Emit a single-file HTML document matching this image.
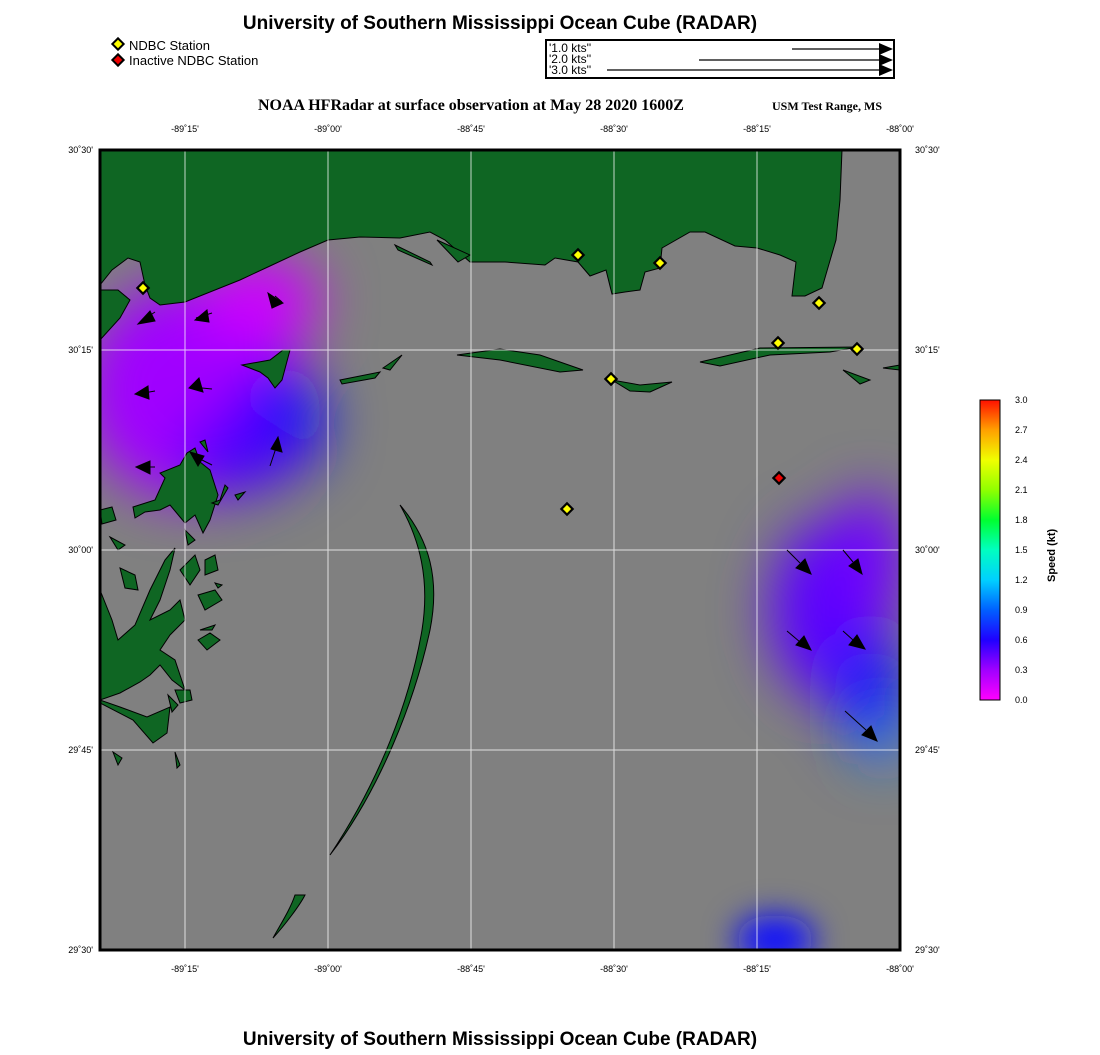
<!DOCTYPE html>
<html><head><meta charset="utf-8"><style>
body{margin:0;background:#fff;width:1100px;height:1050px;overflow:hidden;font-family:"Liberation Sans",sans-serif}
</style></head><body>
<svg width="1100" height="1050" viewBox="0 0 1100 1050" xmlns="http://www.w3.org/2000/svg">
<defs>
<filter id="b1" filterUnits="userSpaceOnUse" x="0" y="0" width="1100" height="1050"><feGaussianBlur stdDeviation="28"/></filter>
<filter id="b2" filterUnits="userSpaceOnUse" x="0" y="0" width="1100" height="1050"><feGaussianBlur stdDeviation="16"/></filter>
<clipPath id="mc"><rect x="100" y="150" width="800" height="800"/></clipPath>
<linearGradient id="cb" x1="0" y1="1" x2="0" y2="0">
<stop offset="0" stop-color="#ff00ff"/><stop offset="0.1" stop-color="#a000ff"/><stop offset="0.2" stop-color="#2000ff"/><stop offset="0.3" stop-color="#0060ff"/><stop offset="0.4" stop-color="#00d0ff"/><stop offset="0.5" stop-color="#00ffc0"/><stop offset="0.6" stop-color="#00ff30"/><stop offset="0.7" stop-color="#90ff00"/><stop offset="0.8" stop-color="#f0ff00"/><stop offset="0.9" stop-color="#ffa000"/><stop offset="1" stop-color="#ff1000"/>
</linearGradient>
</defs>
<text x="500" y="29" font-size="19" font-weight="bold" text-anchor="middle">University of Southern Mississippi Ocean Cube (RADAR)</text>
<text x="500" y="1045" font-size="19" font-weight="bold" text-anchor="middle">University of Southern Mississippi Ocean Cube (RADAR)</text>
<rect x="114" y="40" width="8" height="8" transform="rotate(45 118 44)" fill="#ff0" stroke="#000" stroke-width="2"/>
<text x="129" y="50" font-size="13">NDBC Station</text>
<rect x="114" y="56" width="8" height="8" transform="rotate(45 118 60)" fill="#e00" stroke="#000" stroke-width="2"/>
<text x="129" y="65" font-size="13">Inactive NDBC Station</text>
<rect x="546" y="40" width="348" height="38" fill="#fff" stroke="#000" stroke-width="2"/>
<g font-size="12" font-family="Liberation Sans"><text x="549" y="52">'1.0 kts''</text><text x="549" y="63">'2.0 kts''</text><text x="549" y="74">'3.0 kts''</text></g>
<g stroke="#000" stroke-width="1.2"><line x1="792" y1="49" x2="880" y2="49"/><line x1="699" y1="60" x2="880" y2="60"/><line x1="607" y1="70" x2="880" y2="70"/></g>
<g fill="#000"><polygon points="879,43 893,49 879,55"/><polygon points="879,54 893,60 879,66"/><polygon points="879,64 893,70 879,76"/></g>
<text x="258" y="110" font-size="16" font-weight="bold" font-family="Liberation Serif">NOAA HFRadar at surface observation at May 28 2020 1600Z</text>
<text x="772" y="110" font-size="12" font-weight="bold" font-family="Liberation Serif">USM Test Range, MS</text>
<rect x="100" y="150" width="800" height="800" fill="#808080"/>
<g clip-path="url(#mc)">
<g filter="url(#b1)">
<ellipse cx="190" cy="390" rx="110" ry="110" fill="#a000ff"/>
<ellipse cx="260" cy="300" rx="60" ry="45" fill="#cc00ff"/>
<ellipse cx="280" cy="420" rx="45" ry="55" fill="#0a10ff"/>
<ellipse cx="235" cy="455" rx="55" ry="40" fill="#4800ff"/>
<ellipse cx="830" cy="610" rx="60" ry="90" fill="#5a00ff"/>
<ellipse cx="870" cy="560" rx="35" ry="70" fill="#7000ff"/>
<ellipse cx="870" cy="690" rx="35" ry="60" fill="#0a1aff"/>
<ellipse cx="885" cy="745" rx="18" ry="20" fill="#2080ff"/>
</g>
<g filter="url(#b2)"><ellipse cx="775" cy="940" rx="40" ry="25" fill="#1010ff"/></g>
<g fill="#0f6623" stroke="#000" stroke-width="1">
<path d="M90,140 L905,140 L905,150 L842,150 L840,200 L836,240 L822,288 L805,296 L792,296 L796,262 L780,255 L757,248 L735,246 L705,232 L690,232 L662,248 L660,268 L645,272 L640,290 L625,292 L612,294 L606,270 L590,276 L578,262 L555,258 L545,265 L505,262 L470,262 L445,240 L430,232 L400,238 L360,237 L328,240 L300,252 L270,266 L240,280 L185,302 L160,305 L150,298 L145,285 L140,262 L128,258 L112,270 L100,285 L100,290 L118,290 L130,300 L120,318 L100,340 L90,340 Z"/>
<path d="M395,245 L430,262 L432,265 L398,250 Z"/>
<path d="M437,240 L470,255 L458,262 Z"/>
<path d="M340,380 L380,372 L375,378 L342,384 Z"/>
<path d="M383,368 L402,355 L390,370 Z"/>
<path d="M457,355 L500,349 L540,355 L583,370 L560,372 L500,360 Z"/>
<path d="M612,380 L640,385 L672,382 L650,392 L630,391 Z"/>
<path d="M700,362 L760,348 L858,347 L830,352 L770,355 L720,366 Z"/>
<path d="M843,370 L870,380 L860,384 Z"/>
<path d="M883,368 L900,365 L900,370 Z"/>
<path d="M242,365 L270,360 L283,350 L290,350 L282,380 L275,388 L268,378 L260,372 Z"/>
<path d="M400,505 C430,540 440,580 430,630 C415,700 380,790 330,855 C380,780 410,700 422,630 C430,580 420,540 400,505 Z"/>
<path d="M295,895 C290,910 280,925 273,938 C285,925 300,905 305,895 Z"/>
<path d="M133,507 L155,500 L165,478 L160,473 L180,465 L187,453 L195,448 L200,462 L210,470 L218,495 L210,520 L203,533 L195,515 L185,523 L170,505 L160,510 L145,512 L135,518 Z"/>
<path d="M200,442 L205,440 L208,452 Z"/>
<path d="M100,510 L112,507 L116,520 L102,524 Z"/>
<path d="M110,537 L125,545 L118,550 Z"/>
<path d="M100,590 L112,620 L118,640 L135,625 L150,590 L165,560 L175,548 L170,570 L160,600 L150,620 L170,610 L180,600 L185,620 L170,635 L160,650 L175,660 L185,690 L172,680 L160,665 L150,675 L140,682 L120,693 L100,700 Z"/>
<path d="M120,568 L135,575 L138,590 L125,588 Z"/>
<path d="M180,570 L195,555 L200,570 L190,585 Z"/>
<path d="M205,560 L215,555 L218,570 L205,575 Z"/>
<path d="M185,530 L195,540 L188,545 Z"/>
<path d="M198,595 L215,590 L222,600 L205,610 Z"/>
<path d="M198,640 L210,633 L220,640 L207,650 Z"/>
<path d="M200,630 L215,625 L212,630 Z"/>
<path d="M168,695 L178,705 L172,712 Z"/>
<path d="M175,690 L190,690 L192,700 L180,703 Z"/>
<path d="M100,703 L133,720 L153,743 L167,733 L170,707 L147,717 L120,707 L100,700 Z"/>
<path d="M113,752 L122,758 L118,765 Z"/>
<path d="M175,752 L180,765 L177,768 Z"/>
<path d="M212,503 L220,500 L225,485 L228,488 L218,505 Z"/>
<path d="M215,583 L222,585 L218,588 Z"/>
<path d="M235,495 L245,492 L238,500 Z"/>
</g>
<g stroke="#fff" stroke-width="1" opacity="0.75">
<line x1="185" y1="150" x2="185" y2="950"/><line x1="328" y1="150" x2="328" y2="950"/><line x1="471" y1="150" x2="471" y2="950"/><line x1="614" y1="150" x2="614" y2="950"/><line x1="757" y1="150" x2="757" y2="950"/>
<line x1="100" y1="350" x2="900" y2="350"/><line x1="100" y1="550" x2="900" y2="550"/><line x1="100" y1="750" x2="900" y2="750"/>
</g>
<g stroke="#000" stroke-width="1" fill="#000">
<line x1="155" y1="312" x2="140" y2="322"/><polygon points="138,324 150,311 155,321"/>
<line x1="212" y1="313" x2="196" y2="318"/><polygon points="195,320 207,310 209,322"/>
<line x1="275" y1="296" x2="282" y2="302"/><polygon points="268,293 283,303 272,308"/>
<line x1="155" y1="391" x2="138" y2="394"/><polygon points="135,394 148,386 149,399"/>
<line x1="212" y1="389" x2="192" y2="387"/><polygon points="189,388 199,378 203,392"/>
<line x1="270" y1="466" x2="277" y2="445"/><polygon points="278,437 282,452 271,449"/>
<line x1="212" y1="465" x2="198" y2="458"/><polygon points="190,452 204,456 198,466"/>
<line x1="155" y1="467" x2="140" y2="467"/><polygon points="136,467 150,461 150,474"/>
<line x1="787" y1="550" x2="800" y2="563"/><polygon points="811,574 796,568 805,559"/>
<line x1="843" y1="550" x2="853" y2="562"/><polygon points="862,574 849,566 858,559"/>
<line x1="787" y1="631" x2="800" y2="642"/><polygon points="811,650 796,645 804,636"/>
<line x1="843" y1="631" x2="853" y2="640"/><polygon points="865,649 849,645 857,635"/>
<line x1="845" y1="711" x2="866" y2="730"/><polygon points="877,741 862,735 871,726"/>
</g>
<g stroke="#000" stroke-width="2.2">
<rect x="139" y="284" width="8" height="8" fill="#ff0" transform="rotate(45 143 288)"/>
<rect x="574" y="251" width="8" height="8" fill="#ff0" transform="rotate(45 578 255)"/>
<rect x="656" y="259" width="8" height="8" fill="#ff0" transform="rotate(45 660 263)"/>
<rect x="815" y="299" width="8" height="8" fill="#ff0" transform="rotate(45 819 303)"/>
<rect x="774" y="339" width="8" height="8" fill="#ff0" transform="rotate(45 778 343)"/>
<rect x="853" y="345" width="8" height="8" fill="#ff0" transform="rotate(45 857 349)"/>
<rect x="607" y="375" width="8" height="8" fill="#ff0" transform="rotate(45 611 379)"/>
<rect x="563" y="505" width="8" height="8" fill="#ff0" transform="rotate(45 567 509)"/>
<rect x="775" y="474" width="8" height="8" fill="#e00" transform="rotate(45 779 478)"/>
</g>
</g>
<rect x="100" y="150" width="800" height="800" fill="none" stroke="#000" stroke-width="3"/>
<g font-size="9" fill="#000">
<text x="185" y="132" text-anchor="middle">-89˚15'</text><text x="328" y="132" text-anchor="middle">-89˚00'</text><text x="471" y="132" text-anchor="middle">-88˚45'</text><text x="614" y="132" text-anchor="middle">-88˚30'</text><text x="757" y="132" text-anchor="middle">-88˚15'</text><text x="900" y="132" text-anchor="middle">-88˚00'</text>
<text x="185" y="972" text-anchor="middle">-89˚15'</text><text x="328" y="972" text-anchor="middle">-89˚00'</text><text x="471" y="972" text-anchor="middle">-88˚45'</text><text x="614" y="972" text-anchor="middle">-88˚30'</text><text x="757" y="972" text-anchor="middle">-88˚15'</text><text x="900" y="972" text-anchor="middle">-88˚00'</text>
<text x="93" y="153" text-anchor="end">30˚30'</text><text x="93" y="353" text-anchor="end">30˚15'</text><text x="93" y="553" text-anchor="end">30˚00'</text><text x="93" y="753" text-anchor="end">29˚45'</text><text x="93" y="953" text-anchor="end">29˚30'</text>
<text x="915" y="153">30˚30'</text><text x="915" y="353">30˚15'</text><text x="915" y="553">30˚00'</text><text x="915" y="753">29˚45'</text><text x="915" y="953">29˚30'</text>
</g>
<rect x="980" y="400" width="20" height="300" fill="url(#cb)" stroke="#000" stroke-width="1"/>
<g font-size="9">
<text x="1015" y="403">3.0</text><text x="1015" y="433">2.7</text><text x="1015" y="463">2.4</text><text x="1015" y="493">2.1</text><text x="1015" y="523">1.8</text><text x="1015" y="553">1.5</text><text x="1015" y="583">1.2</text><text x="1015" y="613">0.9</text><text x="1015" y="643">0.6</text><text x="1015" y="673">0.3</text><text x="1015" y="703">0.0</text>
</g>
<text x="0" y="0" font-size="11" font-weight="bold" transform="translate(1055 582) rotate(-90)">Speed (kt)</text>
</svg>
</body></html>
